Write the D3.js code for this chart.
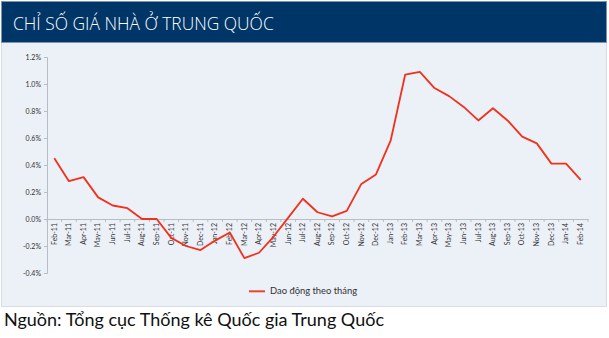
<!DOCTYPE html>
<html><head><meta charset="utf-8">
<script src="https://cdn.jsdelivr.net/npm/d3@7/dist/d3.min.js"></script>
<style>body{margin:0;background:#fff;}svg{display:block;}</style>
</head><body>
<svg id="c" width="609" height="338"></svg>
<script>
const categories = ["Feb-11","Mar-11","Apr-11","May-11","Jun-11","Jul-11","Aug-11","Sep-11","Oct-11","Nov-11","Dec-11",
"Jan-12","Feb-12","Mar-12","Apr-12","May-12","Jun-12","Jul-12","Aug-12","Sep-12","Oct-12","Nov-12","Dec-12",
"Jan-13","Feb-13","Mar-13","Apr-13","May-13","Jun-13","Jul-13","Aug-13","Sep-13","Oct-13","Nov-13","Dec-13",
"Jan-14","Feb-14"];
const values = [0.45,0.28,0.31,0.16,0.10,0.08,0.00,0.00,-0.14,-0.20,-0.23,
-0.16,-0.10,-0.29,-0.25,-0.13,0.01,0.15,0.05,0.02,0.06,0.26,0.33,
0.58,1.07,1.09,0.97,0.91,0.83,0.73,0.82,0.73,0.61,0.56,0.41,
0.41,0.29];
const yTicks = [-0.4,-0.2,0.0,0.2,0.4,0.6,0.8,1.0,1.2];
const seriesName = "Dao động theo tháng";
const title = "CHỈ SỐ GIÁ NHÀ Ở TRUNG QUỐC";
const source = "Nguồn: Tổng cục Thống kê Quốc gia Trung Quốc";

const svg = d3.select("#c");
const font = "Lato, 'Open Sans', sans-serif";

// background panels
svg.append("rect").attr("x",1.5).attr("y",1.5).attr("width",605).attr("height",305).attr("fill","#ECF0F7").attr("stroke","#d8dde6");
svg.append("rect").attr("x",1.5).attr("y",1.5).attr("width",605).attr("height",41).attr("fill","#003567").attr("stroke","#7c93b3");
svg.append("text").attr("x",13).attr("y",30).attr("fill","#fff").attr("font-family","'Open Sans', sans-serif")
  .attr("font-weight",300).attr("font-size",17.4).text(title);

const x = d3.scaleBand().domain(categories).range([47,588]);
const y = d3.scaleLinear().domain([-0.4,1.2]).range([273,57]);

// y axis
const ya = svg.append("g").attr("transform","translate(47,0)")
  .call(d3.axisLeft(y).tickValues(yTicks).tickSize(3).tickFormat(d=>d.toFixed(1)+"%"));
ya.select(".domain").attr("stroke","#b8bcc4");
ya.selectAll(".tick line").attr("stroke","#b8bcc4");
ya.selectAll(".tick text").attr("font-family",font).attr("font-size",7).attr("fill","#333").attr("x",-6);

// x axis
const xa = svg.append("g").attr("transform",`translate(0,${y(0)})`)
  .call(d3.axisBottom(x).tickSize(0).tickSizeOuter(0));
xa.select(".domain").attr("stroke","#b8bcc4");
xa.selectAll(".tick text").attr("font-family",font).attr("font-size",7).attr("fill","#333")
  .attr("transform","rotate(-90)").attr("text-anchor","end").attr("x",-4).attr("y",0).attr("dy","0.32em");
// tick marks at band boundaries
svg.append("g").selectAll("line").data(categories.concat(["__end"])).join("line")
  .attr("x1",(d,i)=> i<categories.length ? x(d) : x.range()[1])
  .attr("x2",(d,i)=> i<categories.length ? x(d) : x.range()[1])
  .attr("y1",y(0)).attr("y2",y(0)+3).attr("stroke","#b8bcc4");

// line
const line = d3.line().x((d,i)=>x(categories[i])+x.bandwidth()/2).y(d=>y(d));
svg.append("path").datum(values).attr("d",line).attr("fill","none").attr("stroke","#F2301C")
  .attr("stroke-width",1.8).attr("stroke-linejoin","round");

// legend
svg.append("line").attr("x1",249).attr("x2",265).attr("y1",291.3).attr("y2",291.3).attr("stroke","#E8452C").attr("stroke-width",2);
svg.append("text").attr("x",270).attr("y",294.3).attr("font-family",font).attr("font-size",9.4).attr("fill","#333").text(seriesName);

// source
svg.append("text").attr("x",4).attr("y",326).attr("font-family",font).attr("font-size",18).attr("fill","#111").text(source);
</script>
</body></html>
